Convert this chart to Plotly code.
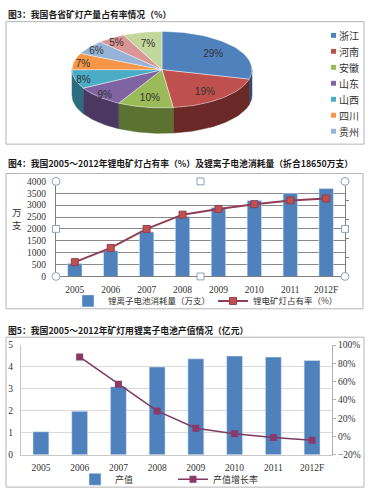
import math
import plotly.graph_objects as go

W, H = 374, 498

# ---------------- data ----------------
pie_labels = ["浙江", "河南", "安徽", "山东", "山西", "四川", "贵州", "其他A", "其他B"]
pie_values = [29, 19, 10, 9, 8, 7, 6, 5, 7]
pie_legend_count = 7

years = ["2005", "2006", "2007", "2008", "2009", "2010", "2011", "2012F"]
battery_use = [540, 1080, 1870, 2520, 2900, 3200, 3500, 3700]      # 万支
lamp_share = [15, 30, 50, 65, 71, 76, 80, 82]                        # %

output_value = [1.05, 1.98, 3.1, 4.0, 4.37, 4.5, 4.45, 4.3]          # 亿元
growth_rate = [None, 87, 57, 28, 9, 3, -1, -4]                       # %

# ---------------- styles ----------------
top_colors = ["#4F81BD", "#C0504D", "#9BBB59", "#8064A2", "#4BACC6",
              "#F79646", "#95B3D7", "#D99694", "#C3D69B"]
side_colors = ["#2E4D74", "#6A2826", "#5C7230", "#4A3863", "#2B6E80",
               "#A9601F", "#5A7699", "#8E5553", "#7C8C5B"]
label_r = [0.72, 0.72, 0.72, 0.9, 0.9, 0.9, 0.9, 0.9, 0.72]
BAR = "#4F81BD"
SERIF = "Liberation Serif"
CJK = "Noto Sans CJK SC"


def px(x):
    return x / W


def py(y):
    return 1 - y / H


fig = go.Figure()

# ---------------- pie (3D-look ellipse) ----------------
cx, cy, rx, ry, depth = 162, 66, 90, 39, 26
total = sum(pie_values)
bounds = []
acc = 0
for v in pie_values:
    a1 = acc / total * 360
    acc += v
    a2 = acc / total * 360
    bounds.append((a1, a2))


def arc(a1, a2, dy=0):
    n = max(2, int(abs(a2 - a1) / 2) + 2)
    pts = []
    for k in range(n):
        a = math.radians(a1 + (a2 - a1) * k / (n - 1))
        pts.append((cx + rx * math.sin(a), cy - ry * math.cos(a) + dy))
    return pts


# side walls
for i, (a1, a2) in enumerate(bounds):
    b1, b2 = max(a1, 90), min(a2, 270)
    if b1 < b2:
        top = arc(b1, b2)
        bot = arc(b2, b1, depth)
        pts = top + bot + [top[0]]
        fig.add_trace(go.Scatter(
            x=[p[0] for p in pts], y=[p[1] for p in pts], mode="lines",
            fill="toself", fillcolor=side_colors[i],
            line=dict(color=side_colors[i], width=0.5),
            hoverinfo="skip", showlegend=False, xaxis="x", yaxis="y"))

# top faces
for i, (a1, a2) in enumerate(bounds):
    pts = [(cx, cy)] + arc(a1, a2) + [(cx, cy)]
    fig.add_trace(go.Scatter(
        x=[p[0] for p in pts], y=[p[1] for p in pts], mode="lines",
        fill="toself", fillcolor=top_colors[i],
        line=dict(color="rgba(255,255,255,0.7)", width=0.6),
        name=pie_labels[i], hoverinfo="name", showlegend=False,
        xaxis="x", yaxis="y"))

# labels
lx, ly, lt = [], [], []
for i, (a1, a2) in enumerate(bounds):
    m = math.radians((a1 + a2) / 2)
    lx.append(cx + label_r[i] * rx * math.sin(m))
    ly.append(cy - label_r[i] * ry * math.cos(m) + 2)
    lt.append(f"{pie_values[i]}%")
fig.add_trace(go.Scatter(
    x=lx, y=ly, text=lt, mode="text",
    textfont=dict(family="Liberation Sans", size=10, color="#333333"),
    hoverinfo="skip", showlegend=False, xaxis="x", yaxis="y"))

# ---------------- chart 2 ----------------
fig.add_trace(go.Bar(
    x=years, y=battery_use, name="锂离子电池消耗量（万支）",
    marker=dict(color=BAR), width=0.4,
    xaxis="x2", yaxis="y2", legend="legend"))
fig.add_trace(go.Scatter(
    x=years, y=lamp_share, name="锂电矿灯占有率（%）", mode="lines+markers",
    line=dict(color="#8E3F55", width=2),
    marker=dict(symbol="square", size=7, color="#C0504D",
                line=dict(color="#8E3F55", width=1)),
    xaxis="x2", yaxis="y3", legend="legend"))

# ---------------- chart 3 ----------------
fig.add_trace(go.Bar(
    x=years, y=output_value, name="产值",
    marker=dict(color=BAR), width=0.41,
    xaxis="x3", yaxis="y4", legend="legend2"))
fig.add_trace(go.Scatter(
    x=years, y=growth_rate, name="产值增长率", mode="lines+markers",
    line=dict(color="#7E3A63", width=1.5),
    marker=dict(symbol="square", size=7, color="#8A3A68"),
    xaxis="x3", yaxis="y5", legend="legend2"))

tickfont = dict(family=SERIF, size=9.5, color="#333333")
tickfont_x2 = dict(family=SERIF, size=9.5, color="#333333")
tickfont3 = dict(family=SERIF, size=9.5, color="#333333")

fig.update_layout(
    width=W, height=H, margin=dict(l=0, r=0, t=0, b=0),
    paper_bgcolor="white", plot_bgcolor="rgba(0,0,0,0)",
    showlegend=True,
    # pixel axes for pie
    xaxis=dict(domain=[0, 1], range=[0, W], visible=False, fixedrange=True),
    yaxis=dict(domain=[0, 1], range=[H, 0], visible=False, fixedrange=True),
    # chart 2
    xaxis2=dict(domain=[px(56), px(345)], anchor="y2", type="category",
                showline=True, linecolor="#7f7f7f", linewidth=1,
                showgrid=False, ticks="", tickfont=tickfont_x2,
                ticklabelstandoff=4, fixedrange=True),
    yaxis2=dict(domain=[py(277), py(180)], anchor="x2", range=[0, 4000],
                dtick=500, showgrid=True, gridcolor="#8a8a8a", gridwidth=1,
                showline=True, linecolor="#7f7f7f", zeroline=False,
                tickfont=tickfont, ticklabelstandoff=7, fixedrange=True),
    yaxis3=dict(anchor="x2", overlaying="y2", side="right", range=[0, 100],
                dtick=20, showgrid=False, showticklabels=False,
                ticks="outside", ticklen=3, tickcolor="#7f7f7f",
                showline=True, linecolor="#7f7f7f", zeroline=False,
                fixedrange=True),
    # chart 3
    xaxis3=dict(domain=[px(21), px(332)], anchor="y4", type="category",
                showline=True, linecolor="#c8c8c8", linewidth=1,
                showgrid=False, ticks="", tickfont=tickfont3,
                ticklabelstandoff=4, fixedrange=True),
    yaxis4=dict(domain=[py(459), py(347)], anchor="x3", range=[0, 5],
                dtick=1, showgrid=True, gridcolor="#d9d9d9", gridwidth=1,
                showline=True, linecolor="#c8c8c8", zeroline=False,
                tickfont=tickfont3, ticklabelstandoff=5, fixedrange=True),
    yaxis5=dict(anchor="x3", overlaying="y4", side="right", range=[-20, 100],
                dtick=20, ticksuffix="%", showgrid=False,
                ticks="outside", ticklen=3, tickcolor="#b0b0b0",
                showline=True, linecolor="#b0b0b0", zeroline=False,
                tickfont=tickfont3, ticklabelstandoff=0, fixedrange=True),
    legend=dict(orientation="h", x=px(68), y=py(302), xanchor="left",
                yanchor="middle", font=dict(family=CJK, size=8.5, color="#333"),
                bgcolor="rgba(0,0,0,0)", itemwidth=30, entrywidth=100,
                tracegroupgap=0),
    legend2=dict(orientation="h", x=px(75), y=py(484), xanchor="left",
                 yanchor="middle", font=dict(family=CJK, size=9, color="#333"),
                 bgcolor="rgba(0,0,0,0)", itemwidth=30, entrywidth=53),
    bargap=0.6,
)

shapes = []
# outer boxes
for (x0, y0, x1, y1) in [(6, 17, 364, 142), (6, 172, 363, 310), (6, 339, 364, 492)]:
    shapes.append(dict(type="rect", xref="paper", yref="paper",
                       x0=px(x0), x1=px(x1), y0=py(y0), y1=py(y1),
                       line=dict(color="#b4b4b4", width=1), layer="below"))
# selection handles of chart 2
L, R, T, B = 56, 345, 180, 277
MX, MY = (L + R) / 2, (T + B) / 2
for (hx, hy) in [(L, T), (R, T), (L, B), (R, B)]:
    shapes.append(dict(type="circle", xref="paper", yref="paper",
                       x0=px(hx - 4), x1=px(hx + 4), y0=py(hy - 4), y1=py(hy + 4),
                       line=dict(color="#8ea1b5", width=1), fillcolor="white"))
for (hx, hy) in [(MX, T), (MX, B), (L, MY), (R, MY)]:
    shapes.append(dict(type="rect", xref="paper", yref="paper",
                       x0=px(hx - 3.5), x1=px(hx + 3.5), y0=py(hy - 3.5), y1=py(hy + 3.5),
                       line=dict(color="#8ea1b5", width=1), fillcolor="white"))
# pie legend swatches
for i in range(pie_legend_count):
    yc = 31 + i * 16.3
    shapes.append(dict(type="rect", xref="paper", yref="paper",
                       x0=px(331), x1=px(336), y0=py(yc - 2.5), y1=py(yc + 2.5),
                       line=dict(width=0), fillcolor=top_colors[i]))
fig.update_layout(shapes=shapes)

ann = []
titles = [
    ("图3：我国各省矿灯产量占有率情况（%）", 10),
    ("图4：我国2005～2012年锂电矿灯占有率（%）及锂离子电池消耗量（折合18650万支）", 162),
    ("图5：我国2005～2012年矿灯用锂离子电池产值情况（亿元）", 332),
]
for t, y in titles:
    ann.append(dict(text=f"<b>{t}</b>", xref="paper", yref="paper",
                    x=px(6), y=py(y), xanchor="left", yanchor="middle",
                    showarrow=False, font=dict(family=CJK, size=8.8, color="#1a1a1a")))
# pie legend names
for i in range(pie_legend_count):
    ann.append(dict(
        text=pie_labels[i], xref="paper", yref="paper", x=px(337), y=py(31 + i * 16.3),
        xanchor="left", yanchor="middle", showarrow=False,
        font=dict(family=CJK, size=10, color="#333333")))
# y title chart 2 (stacked characters)
for ch, yy in [("万", 211), ("支", 224)]:
    ann.append(dict(text=ch, xref="paper", yref="paper", x=px(17), y=py(yy),
                    xanchor="center", yanchor="middle", showarrow=False,
                    borderpad=0, font=dict(family=CJK, size=9.5, color="#333333")))
fig.update_layout(annotations=ann)

fig.write_html("out.html",
               config={"displayModeBar": False},
               post_script="document.body.style.margin='0';"
                           "document.body.style.overflow='hidden';")
